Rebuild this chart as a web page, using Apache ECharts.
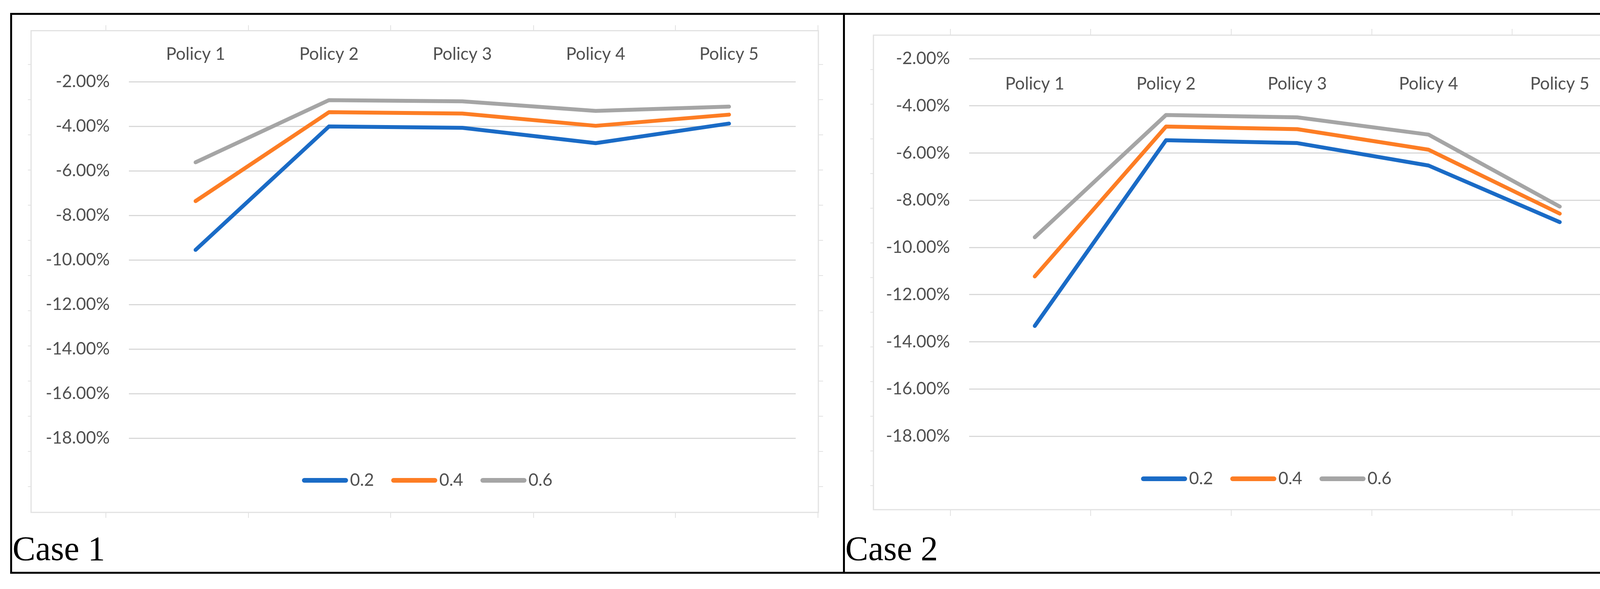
<!DOCTYPE html>
<html>
<head>
<meta charset="utf-8">
<script src="https://cdn.jsdelivr.net/npm/echarts@6/dist/echarts.min.js"></script>
<style>
html,body{margin:0;padding:0;background:#fff;overflow:hidden;}
#c{width:4327px;height:1507px;}
</style>
</head>
<body>
<div id="c"></div>
<script>
// ---- data (percent values) ----
const categories = ['Policy 1', 'Policy 2', 'Policy 3', 'Policy 4', 'Policy 5'];
const seriesNames = ['0.2', '0.4', '0.6'];
const case1_02 = [-9.55, -4.01, -4.07, -4.76, -3.88];
const case1_04 = [-7.36, -3.37, -3.43, -3.98, -3.48];
const case1_06 = [-5.62, -2.83, -2.88, -3.31, -3.12];
const case2_02 = [-13.33, -5.46, -5.58, -6.53, -8.93];
const case2_04 = [-11.23, -4.88, -4.99, -5.86, -8.57];
const case2_06 = [-9.57, -4.39, -4.49, -5.22, -8.27];
const panelLabels = ['Case 1', 'Case 2'];

const colors = ['#1a6bc6', '#fd7d24', '#a5a5a5'];
const FONT = 'Lato, "Open Sans", sans-serif';
const TXT = '#505050';

const chart = echarts.init(document.getElementById('c'), null, {renderer: 'canvas', width: 4327, height: 1507, devicePixelRatio: 1});

function xAx(gi, margin) {
  return {
    type: 'category', gridIndex: gi, data: categories, position: 'top', boundaryGap: true,
    axisLine: {show: false}, axisTick: {show: false}, splitLine: {show: false},
    axisLabel: {inside: true, margin: margin, verticalAlign: 'middle', fontFamily: FONT, fontSize: 44, color: TXT}
  };
}
function yAx(gi, max) {
  return {
    type: 'value', gridIndex: gi, min: -20, max: max, interval: 2,
    axisLine: {show: false}, axisTick: {show: false},
    axisLabel: {margin: 49, fontFamily: FONT, fontSize: 44, color: TXT, showMinLabel: false, showMaxLabel: false,
      formatter: v => v.toFixed(2) + '%'},
    splitLine: {show: true, showMinLine: false, showMaxLine: false, lineStyle: {color: '#d9d9d9', width: 3}}
  };
}
const caseData = [[case1_02, case1_04, case1_06], [case2_02, case2_04, case2_06]];
const series = [];
caseData.forEach((set, gi) => {
  set.forEach((d, i) => {
    series.push({
      name: seriesNames[i], type: 'line', xAxisIndex: gi, yAxisIndex: gi, data: d,
      symbol: 'none', color: colors[i], z: 3 - i,
      lineStyle: {width: 10, cap: 'round', join: 'round', color: colors[i]}
    });
  });
});

const icon = 'path://M6,0 L112,0 A6,6 0 0 1 112,12 L6,12 A6,6 0 0 1 6,0 Z';
function leg(left, top) {
  return {
    left: left, top: top, orient: 'horizontal', padding: 0, itemWidth: 118, itemHeight: 12, itemGap: 44,
    icon: icon, data: seriesNames, selectedMode: false,
    textStyle: {fontFamily: FONT, fontSize: 44, color: TXT}
  };
}

// ---- decorations (frames, sheet grid ticks, case labels) ----
const graphic = [];
const LG = '#e2e2e2';
function ln(x1, y1, x2, y2, w, c) {
  graphic.push({type: 'line', silent: true, shape: {x1, y1, x2, y2}, style: {stroke: c, lineWidth: w}});
}
function sheet(x0, y0, x1, y1, cols, rowStart, rowStep, rowEnd, tl) {
  graphic.push({type: 'rect', silent: true, shape: {x: x0, y: y0, width: x1 - x0, height: y1 - y0},
    style: {fill: 'none', stroke: LG, lineWidth: 3}});
  cols.forEach(x => { ln(x, y0 - tl, x, y0, 2, LG); ln(x, y1, x, y1 + tl, 2, LG); });
  for (let y = rowStart; y <= rowEnd; y += rowStep) { ln(x0 - 8, y, x0, y, 2, LG); ln(x1, y, x1 + 12, y, 2, LG); }
}
sheet(79.5, 78.5, 2095, 1311, [271, 636, 1000, 1366, 1729, 2094], 165, 90, 1250, 14);
sheet(2236, 90, 4222, 1304, [2433, 2792, 3152, 3512, 3871, 4229], 178, 88.7, 1250, 16);
ln(4230, 72, 4230, 1318, 2, LG);
// outer frame + divider
graphic.push({type: 'rect', silent: true, shape: {x: 28.5, y: 35.5, width: 4267, height: 1430},
  style: {fill: 'none', stroke: '#000', lineWidth: 5}});
ln(2160.5, 35.5, 2160.5, 1465.5, 5, '#000');
graphic.push({type: 'text', silent: true, style: {text: panelLabels[0], x: 32, y: 1410, fill: '#000',
  font: '88px "Liberation Serif", serif', verticalAlign: 'middle', align: 'left'}});
graphic.push({type: 'text', silent: true, style: {text: panelLabels[1], x: 2164, y: 1410, fill: '#000',
  font: '88px "Liberation Serif", serif', verticalAlign: 'middle', align: 'left'}});

chart.setOption({
  backgroundColor: '#fff',
  animation: false,
  grid: [
    {left: 330, top: 95, width: 1707, height: 1140},
    {left: 2481, top: 89.6, width: 1680, height: 1147.1}
  ],
  xAxis: [xAx(0, 44), xAx(1, 125)],
  yAxis: [yAx(0, 0), yAx(1, -1)],
  legend: [leg(773, 1207), leg(2921, 1203)],
  series: series,
  graphic: graphic
});
</script>
</body>
</html>
